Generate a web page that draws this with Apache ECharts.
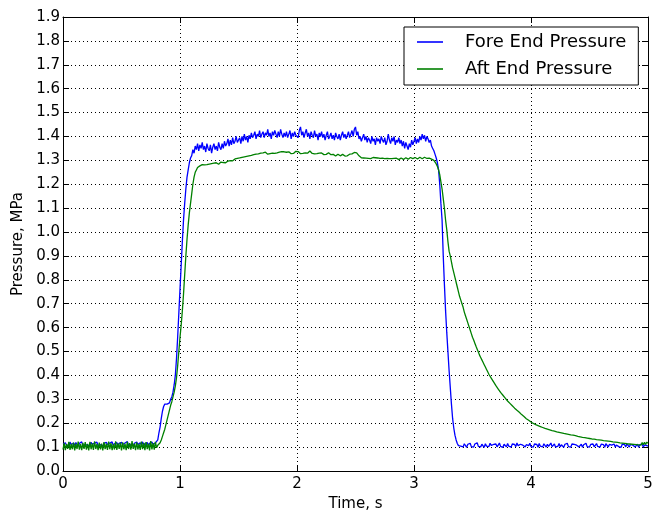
<!DOCTYPE html>
<html>
<head>
<meta charset="utf-8">
<script src="https://cdn.jsdelivr.net/npm/echarts@6/dist/echarts.min.js"></script>
<style>
html,body{margin:0;padding:0;background:#fff;}
#chart{width:652px;height:511px;}
</style>
</head>
<body>
<div id="chart"></div>
<script>
// Sample step of the recording (seconds)
const DT = 0.01;
const seriesNames = ["Fore End Pressure", "Aft End Pressure"];
const xTicks = [0, 1, 2, 3, 4, 5];
const yTicks = [0.0,0.1,0.2,0.3,0.4,0.5,0.6,0.7,0.8,0.9,1.0,1.1,1.2,1.3,1.4,1.5,1.6,1.7,1.8,1.9];

// Fore End Pressure (MPa), t = 0.00 .. 5.00 s, one row per 0.1 s
const fore = [
0.114,0.106,0.118,0.109,0.116,0.105,0.121,0.110,0.108,0.117,
0.107,0.119,0.111,0.104,0.116,0.109,0.122,0.106,0.112,0.110,
0.118,0.108,0.115,0.105,0.120,0.111,0.107,0.117,0.109,0.121,
0.106,0.114,0.110,0.118,0.104,0.116,0.108,0.120,0.111,0.107,
0.117,0.109,0.122,0.105,0.114,0.110,0.119,0.107,0.116,0.108,
0.120,0.111,0.106,0.117,0.109,0.123,0.107,0.114,0.110,0.118,
0.105,0.116,0.108,0.121,0.111,0.107,0.118,0.109,0.122,0.106,
0.115,0.110,0.119,0.104,0.116,0.108,0.121,0.111,0.107,0.118,
0.112,0.13,0.16,0.185,0.22,0.25,0.27,0.28,0.275,0.28,
0.277,0.285,0.30,0.31,0.33,0.36,0.40,0.47,0.56,0.66,
0.76,0.86,0.96,1.05,1.12,1.18,1.23,1.26,1.29,1.31,
1.32,1.345,1.33,1.36,1.345,1.37,1.34,1.365,1.35,1.375,
1.345,1.36,1.335,1.37,1.35,1.34,1.365,1.33,1.355,1.37,
1.345,1.36,1.34,1.375,1.355,1.345,1.37,1.35,1.38,1.36,
1.37,1.39,1.36,1.385,1.365,1.395,1.37,1.38,1.40,1.375,
1.385,1.395,1.37,1.40,1.38,1.41,1.385,1.40,1.375,1.405,
1.39,1.415,1.395,1.405,1.42,1.39,1.41,1.40,1.425,1.395,
1.41,1.42,1.395,1.415,1.405,1.43,1.40,1.415,1.39,1.42,
1.405,1.425,1.41,1.395,1.42,1.40,1.43,1.41,1.395,1.415,
1.40,1.42,1.395,1.41,1.425,1.39,1.415,1.40,1.42,1.405,
1.41,1.395,1.425,1.44,1.405,1.42,1.395,1.415,1.43,1.40,
1.415,1.39,1.42,1.405,1.395,1.425,1.40,1.41,1.385,1.415,
1.40,1.42,1.395,1.41,1.385,1.405,1.42,1.39,1.40,1.415,
1.39,1.405,1.385,1.415,1.40,1.39,1.41,1.385,1.405,1.42,
1.395,1.41,1.39,1.405,1.42,1.395,1.41,1.425,1.40,1.43,
1.44,1.405,1.42,1.39,1.40,1.38,1.395,1.41,1.385,1.40,
1.375,1.395,1.385,1.37,1.40,1.38,1.39,1.365,1.395,1.38,
1.39,1.37,1.40,1.385,1.375,1.395,1.365,1.38,1.41,1.385,
1.37,1.395,1.38,1.40,1.365,1.385,1.375,1.395,1.37,1.385,
1.36,1.38,1.35,1.375,1.36,1.345,1.37,1.355,1.385,1.365,
1.38,1.395,1.37,1.39,1.375,1.40,1.385,1.41,1.39,1.405,
1.38,1.40,1.39,1.375,1.385,1.36,1.35,1.34,1.325,1.31,
1.29,1.26,1.20,1.12,1.05,0.90,0.78,0.67,0.58,0.50,
0.42,0.35,0.28,0.22,0.18,0.15,0.13,0.115,0.106,0.112,
0.104,0.111,0.101,0.114,0.106,0.099,0.112,0.105,0.116,0.102,
0.109,0.100,0.113,0.106,0.118,0.103,0.108,0.101,0.112,0.105,
0.099,0.114,0.104,0.110,0.102,0.116,0.107,0.100,0.111,0.104,
0.113,0.101,0.108,0.117,0.103,0.110,0.099,0.112,0.106,0.101,
0.115,0.104,0.109,0.100,0.113,0.105,0.111,0.102,0.117,0.106,
0.100,0.112,0.104,0.108,0.114,0.101,0.110,0.103,0.106,0.116,
0.102,0.109,0.100,0.113,0.105,0.111,0.099,0.115,0.104,0.108,
0.101,0.114,0.106,0.100,0.112,0.103,0.109,0.117,0.102,0.107,
0.113,0.100,0.108,0.104,0.115,0.101,0.110,0.106,0.099,0.112,
0.104,0.116,0.102,0.109,0.100,0.113,0.105,0.111,0.103,0.108,
0.114,0.101,0.107,0.112,0.099,0.110,0.104,0.116,0.102,0.106,
0.100,0.111,0.105,0.113,0.101,0.108,0.115,0.103,0.109,0.100,
0.112,0.104,0.110,0.099,0.114,0.106,0.101,0.111,0.103,0.108,
0.105,0.113,0.100,0.109,0.116,0.102,0.107,0.099,0.112,0.104,
0.110,0.101,0.114,0.106,0.100,0.111,0.103,0.108,0.115,0.101,
0.107,0.112,0.099,0.110,0.104,0.113,0.100,0.109,0.102,0.106,
0.104
];

// Aft End Pressure (MPa), t = 0.00 .. 5.00 s, one row per 0.1 s
const aft = [
0.090,0.117,0.087,0.112,0.093,0.122,0.088,0.114,0.091,0.119,
0.086,0.115,0.092,0.123,0.089,0.113,0.087,0.118,0.093,0.121,
0.089,0.114,0.086,0.122,0.091,0.116,0.088,0.124,0.092,0.113,
0.087,0.119,0.090,0.115,0.086,0.121,0.092,0.114,0.088,0.123,
0.091,0.117,0.087,0.113,0.090,0.124,0.088,0.116,0.093,0.119,
0.086,0.120,0.091,0.114,0.087,0.122,0.092,0.117,0.089,0.125,
0.093,0.115,0.087,0.120,0.090,0.113,0.088,0.123,0.091,0.118,
0.087,0.121,0.092,0.115,0.086,0.125,0.090,0.117,0.089,0.122,
0.097,0.108,0.112,0.118,0.13,0.145,0.16,0.175,0.195,0.215,
0.235,0.255,0.275,0.29,0.31,0.33,0.355,0.39,0.44,0.50,
0.56,0.61,0.67,0.74,0.82,0.90,0.97,1.03,1.08,1.12,
1.16,1.20,1.23,1.25,1.26,1.27,1.273,1.277,1.28,1.282,
1.283,1.281,1.285,1.282,1.287,1.284,1.28,1.286,1.283,1.288,
1.285,1.29,1.287,1.284,1.29,1.293,1.288,1.291,1.295,1.29,
1.294,1.297,1.293,1.299,1.302,1.298,1.303,1.306,1.302,1.308,
1.305,1.31,1.307,1.313,1.309,1.315,1.312,1.317,1.314,1.319,
1.316,1.321,1.318,1.324,1.32,1.326,1.322,1.327,1.324,1.33,
1.326,1.331,1.328,1.334,1.329,1.326,1.332,1.328,1.335,1.33,
1.333,1.329,1.336,1.331,1.328,1.334,1.33,1.337,1.341,1.336,
1.339,1.334,1.331,1.336,1.332,1.328,1.333,1.329,1.335,1.338,
1.342,1.337,1.332,1.328,1.325,1.329,1.326,1.331,1.334,1.33,
1.336,1.339,1.334,1.329,1.332,1.327,1.324,1.328,1.325,1.33,
1.327,1.331,1.328,1.324,1.321,1.325,1.328,1.332,1.328,1.324,
1.321,1.325,1.322,1.318,1.322,1.326,1.323,1.319,1.322,1.325,
1.321,1.318,1.322,1.319,1.323,1.326,1.322,1.327,1.33,1.333,
1.336,1.331,1.325,1.319,1.314,1.311,1.313,1.31,1.312,1.309,
1.311,1.308,1.31,1.307,1.309,1.312,1.308,1.311,1.307,1.31,
1.312,1.308,1.305,1.309,1.311,1.307,1.304,1.308,1.31,1.307,
1.304,1.307,1.311,1.308,1.305,1.309,1.306,1.303,1.307,1.31,
1.307,1.304,1.308,1.311,1.308,1.305,1.309,1.312,1.31,1.307,
1.31,1.312,1.309,1.306,1.31,1.313,1.31,1.307,1.311,1.313,
1.31,1.308,1.311,1.309,1.306,1.305,1.30,1.30,1.295,1.285,
1.275,1.26,1.24,1.21,1.18,1.14,1.10,1.05,1.01,0.96,
0.92,0.90,0.875,0.85,0.83,0.81,0.79,0.77,0.75,0.73,
0.715,0.70,0.685,0.665,0.65,0.635,0.62,0.605,0.59,0.575,
0.56,0.548,0.535,0.522,0.51,0.498,0.485,0.475,0.465,0.455,
0.445,0.435,0.425,0.415,0.405,0.397,0.389,0.381,0.373,0.365,
0.357,0.352,0.343,0.338,0.329,0.325,0.317,0.313,0.305,0.301,
0.293,0.290,0.283,0.281,0.273,0.271,0.263,0.261,0.254,0.251,
0.246,0.243,0.236,0.234,0.228,0.226,0.219,0.218,0.212,0.211,
0.205,0.206,0.199,0.200,0.194,0.196,0.190,0.192,0.186,0.188,
0.182,0.185,0.178,0.181,0.175,0.178,0.172,0.176,0.169,0.173,
0.167,0.171,0.164,0.168,0.162,0.166,0.160,0.164,0.157,0.162,
0.155,0.160,0.153,0.158,0.151,0.156,0.150,0.155,0.148,0.153,
0.145,0.150,0.143,0.148,0.141,0.147,0.140,0.145,0.138,0.144,
0.136,0.142,0.134,0.140,0.133,0.139,0.131,0.138,0.130,0.136,
0.129,0.135,0.127,0.134,0.126,0.132,0.125,0.131,0.124,0.130,
0.122,0.129,0.121,0.127,0.120,0.126,0.118,0.125,0.117,0.124,
0.116,0.123,0.114,0.122,0.113,0.121,0.112,0.120,0.111,0.119,
0.110,0.118,0.109,0.117,0.108,0.119,0.110,0.120,0.111,0.121,
0.116
];

const times = fore.map((_, i) => +(i * DT).toFixed(2));

const FONT = 'DejaVu Sans';
const chart = echarts.init(document.getElementById('chart'), null, {renderer: 'canvas'});

const tickCommon = {show: true, inside: true, length: 6, lineStyle: {color: '#000', width: 1}};
const lineCommon = {show: true, onZero: false, lineStyle: {color: '#000', width: 1}};
const gridLine = {show: true, lineStyle: {color: '#000', width: 1, type: [1, 3]}};

const option = {
  animation: false,
  backgroundColor: '#fff',
  grid: {left: 63, right: 4, top: 17, bottom: 40, outerBoundsMode: 'none', containLabel: false},
  legend: {
    data: seriesNames,
    orient: 'vertical',
    left: 404,
    top: 27,
    backgroundColor: '#fff',
    borderColor: '#000',
    borderWidth: 1,
    borderRadius: 0,
    padding: [5, 12, 6, 13],
    itemGap: 7,
    itemWidth: 26,
    itemHeight: 1.6,
    icon: 'rect',
    textStyle: {fontFamily: FONT, fontSize: 18, color: '#000', lineHeight: 20, padding: [0, 0, 0, 17]}
  },
  xAxis: [{
    type: 'value', min: xTicks[0], max: xTicks[xTicks.length - 1], interval: 1,
    name: 'Time, s', nameLocation: 'middle', nameGap: 25,
    nameTextStyle: {fontFamily: FONT, fontSize: 15, color: '#000'},
    axisLine: lineCommon, axisTick: tickCommon,
    axisLabel: {fontFamily: FONT, fontSize: 15, color: '#000', margin: 6},
    splitLine: gridLine
  }, {
    type: 'value', position: 'top', min: xTicks[0], max: xTicks[xTicks.length - 1], interval: 1,
    axisLine: lineCommon, axisTick: tickCommon, axisLabel: {show: false}, splitLine: {show: false}
  }],
  yAxis: [{
    type: 'value', min: yTicks[0], max: yTicks[yTicks.length - 1], interval: 0.1,
    name: 'Pressure, MPa', nameLocation: 'middle', nameGap: 31,
    nameTextStyle: {fontFamily: FONT, fontSize: 15, color: '#000'},
    axisLine: lineCommon, axisTick: tickCommon,
    axisLabel: {fontFamily: FONT, fontSize: 15, color: '#000', margin: 3, formatter: v => v.toFixed(1)},
    splitLine: gridLine
  }, {
    type: 'value', position: 'right', min: yTicks[0], max: yTicks[yTicks.length - 1], interval: 0.1,
    axisLine: lineCommon, axisTick: tickCommon, axisLabel: {show: false}, splitLine: {show: false}
  }],
  series: [{
    name: seriesNames[0], type: 'line', symbol: 'none', showSymbol: false,
    xAxisIndex: 0, yAxisIndex: 0,
    color: '#0000ff', lineStyle: {color: '#0000ff', width: 1.3},
    data: times.map((t, i) => [t, fore[i]])
  }, {
    name: seriesNames[1], type: 'line', symbol: 'none', showSymbol: false,
    xAxisIndex: 0, yAxisIndex: 0,
    color: '#008000', lineStyle: {color: '#008000', width: 1.3},
    data: times.map((t, i) => [t, aft[i]])
  }]
};
chart.setOption(option);
</script>
</body>
</html>
